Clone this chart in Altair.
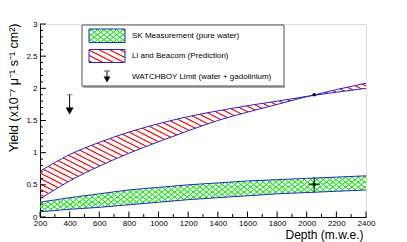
import math
import altair as alt
import pandas as pd

# ---------------- data ----------------
depth = [200, 400, 600, 800, 1000, 1200, 1400, 1600, 1800, 2000, 2200, 2400]
sk_upper = [0.23, 0.30, 0.36, 0.42, 0.46, 0.50, 0.53, 0.56, 0.58, 0.60, 0.62, 0.64]
sk_lower = [0.08, 0.12, 0.15, 0.19, 0.23, 0.27, 0.30, 0.33, 0.36, 0.38, 0.40, 0.42]
lb_upper = [0.71, 0.97, 1.16, 1.32, 1.45, 1.56, 1.65, 1.73, 1.80, 1.875, 1.94, 2.00]
lb_lower = [0.28, 0.56, 0.79, 0.99, 1.17, 1.34, 1.50, 1.63, 1.75, 1.87, 1.98, 2.08]

sk_point_depth = [2050]
sk_point_val = [0.51]
sk_point_lo = [0.39]
sk_point_hi = [0.62]
sk_point_dlo = [2010]
sk_point_dhi = [2090]

norm_depth = [2050]
norm_val = [1.90]

wb_depth = [400]
wb_limit = [1.90]
wb_arrow = [1.648]

x_major = [200, 400, 600, 800, 1000, 1200, 1400, 1600, 1800, 2000, 2200, 2400]
x_minor = [300, 500, 700, 900, 1100, 1300, 1500, 1700, 1900, 2100, 2300]
y_major = [0, 0.5, 1, 1.5, 2, 2.5, 3]
y_minor = [round(0.1 * i, 1) for i in range(31) if i % 5 != 0]

legend_labels = ["SK Measurement (pure water)", "Li and Beacom (Prediction)",
                 "WATCHBOY Limit (water + gadolinium)"]

# ---------------- layout ----------------
W, H = 326, 193
XD = [200, 2400]
YD = [0, 3]
FONT = "Liberation Sans"
BLUE = "#2424c8"
RED_RGB = "255,20,20"
GREEN_RGB = "20,235,20"


def ypix(v):
    return v * H / (YD[1] - YD[0])


def hatch(wp, hp, theta_deg, spacing, rgb, core=0.3, fade=0.6):
    th = math.radians(theta_deg)
    s, c = math.sin(th), math.cos(th)

    def f(u, v):
        return -s * wp * u + c * hp * v

    corners = [(0, 0), (1, 0), (0, 1), (1, 1)]
    vals = [f(u, v) for u, v in corners]
    i0 = min(range(4), key=lambda i: vals[i])
    fmin, fmax = min(vals), max(vals)
    R = fmax - fmin
    k = R / (s * s * wp * wp + c * c * hp * hp)
    u0, v0 = corners[i0]
    x2 = u0 + k * (-s * wp)
    y2 = v0 + k * (c * hp)
    col = f"rgba({rgb},1)"
    clr = f"rgba({rgb},0)"
    stops = [alt.GradientStop(offset=0, color=clr)]
    n = int(R / spacing) + 1
    for i in range(n):
        cc = spacing * (i + 0.5)
        pts = [(cc - core - fade, clr), (cc - core, col), (cc + core, col), (cc + core + fade, clr)]
        for o, colr in pts:
            o = min(max(o / R, 0.0), 1.0)
            stops.append(alt.GradientStop(offset=o, color=colr))
    stops.append(alt.GradientStop(offset=1, color=clr))
    return alt.LinearGradient(gradient="linear", x1=u0, y1=v0, x2=x2, y2=y2, stops=stops)


band = pd.DataFrame({"depth": depth, "sk_u": sk_upper, "sk_l": sk_lower,
                     "lb_u": lb_upper, "lb_l": lb_lower})

lb_h = ypix(max(lb_upper + lb_lower) - min(lb_upper + lb_lower))
sk_h = ypix(max(sk_upper + sk_lower) - min(sk_upper + sk_lower))

RED_THETA, RED_SP = 27, 4.8
GR_THETA, GR_SP = 38, 3.9
GR_CORE, GR_FADE = 0.2, 0.55

xs = alt.Scale(domain=XD, nice=False, zero=False)
ys = alt.Scale(domain=YD, nice=False, zero=False)

x_axis = alt.Axis(values=x_major, format="d", ticks=False, tickSize=0, labelPadding=2,
                  labelFontSize=8, labelFont=FONT, labelColor="black", labelFlush=False,
                  labelOverlap=False, labelBound=False, domainColor="black", grid=False,
                  title="Depth (m.w.e.)", titleFont=FONT, titleFontSize=12,
                  titleFontWeight="normal", titleColor="black", titleAnchor="end",
                  titleAlign="right", titleX=W - 3, titleY=21, titleBaseline="alphabetic")
y_axis = alt.Axis(values=y_major, format="~g", ticks=False, tickSize=0, labelPadding=3,
                  labelFontSize=8, labelFont=FONT, labelColor="black", labelFlush=False,
                  labelOverlap=False, labelBound=False, domainColor="black", grid=False,
                  title="Yield (x10⁻⁷ μ⁻¹ s⁻¹ cm²)", titleFont=FONT, titleFontSize=12.5,
                  titleFontWeight="normal", titleColor="black", titleAngle=270,
                  titleAlign="right", titleBaseline="alphabetic", titleX=-22.5, titleY=-1)

base = alt.Chart(band)

sk_a = base.mark_area(fill=hatch(W, sk_h, GR_THETA, GR_SP, GREEN_RGB, GR_CORE, GR_FADE),
                      opacity=1, interpolate="monotone").encode(
    x=alt.X("depth:Q", scale=xs, axis=x_axis),
    y=alt.Y("sk_u:Q", scale=ys, axis=y_axis), y2="sk_l:Q")
sk_b = base.mark_area(fill=hatch(W, sk_h, -GR_THETA, GR_SP, GREEN_RGB, GR_CORE, GR_FADE),
                      opacity=1, interpolate="monotone").encode(
    x=alt.X("depth:Q", scale=xs, axis=x_axis), y=alt.Y("sk_u:Q", scale=ys, axis=y_axis),
    y2="sk_l:Q")
lb_a = base.mark_area(fill=hatch(W, lb_h, RED_THETA, RED_SP, RED_RGB), opacity=1,
                      interpolate="monotone").encode(
    x=alt.X("depth:Q", scale=xs, axis=x_axis), y=alt.Y("lb_u:Q", scale=ys, axis=y_axis),
    y2="lb_l:Q")

curves = base.transform_fold(["sk_u", "sk_l", "lb_u", "lb_l"], as_=["curve", "val"]).mark_line(
    color=BLUE, strokeWidth=1, interpolate="monotone").encode(
    x=alt.X("depth:Q", scale=xs, axis=x_axis), y=alt.Y("val:Q", scale=ys, axis=y_axis),
    detail="curve:N")

skp = pd.DataFrame({"d": sk_point_depth, "v": sk_point_val, "lo": sk_point_lo,
                    "hi": sk_point_hi, "dlo": sk_point_dlo, "dhi": sk_point_dhi})
sk_vbar = alt.Chart(skp).mark_rule(color="black", strokeWidth=1).encode(
    x=alt.X("d:Q", scale=xs, axis=x_axis), y=alt.Y("lo:Q", scale=ys, axis=y_axis), y2="hi:Q")
sk_hbar = alt.Chart(skp).mark_rule(color="black", strokeWidth=1).encode(
    x=alt.X("dlo:Q", scale=xs, axis=x_axis), x2="dhi:Q", y=alt.Y("v:Q", scale=ys, axis=y_axis))
sk_dot = alt.Chart(skp).mark_point(shape="circle", filled=True, color="black", size=12,
                                   opacity=1).encode(
    x=alt.X("d:Q", scale=xs, axis=x_axis), y=alt.Y("v:Q", scale=ys, axis=y_axis))

normp = pd.DataFrame({"d": norm_depth, "v": norm_val})
norm_dot = alt.Chart(normp).mark_point(shape="circle", filled=True, color="black", size=12,
                                       opacity=1).encode(
    x=alt.X("d:Q", scale=xs, axis=x_axis), y=alt.Y("v:Q", scale=ys, axis=y_axis))

wb = pd.DataFrame({"d": wb_depth, "v": wb_limit, "a": wb_arrow})
wb_rule = alt.Chart(wb).mark_rule(color="black", strokeWidth=1).encode(
    x=alt.X("d:Q", scale=xs, axis=x_axis), y=alt.Y("v:Q", scale=ys, axis=y_axis), y2="a:Q")
wb_cap = alt.Chart(wb).mark_tick(orient="horizontal", color="#555555", size=6,
                                 thickness=1).encode(
    x=alt.X("d:Q", scale=xs, axis=x_axis), y=alt.Y("v:Q", scale=ys, axis=y_axis))
wb_head = alt.Chart(wb).mark_point(shape="triangle-down", filled=True, color="black",
                                   size=64, opacity=1).encode(
    x=alt.X("d:Q", scale=xs, axis=x_axis), y=alt.Y("a:Q", scale=ys, axis=y_axis))


# ---------------- ticks (inside, ROOT style) ----------------
def xticks(vals, length):
    return alt.Chart(pd.DataFrame({"t": vals})).mark_rule(color="black", strokeWidth=1).encode(
        x=alt.X("t:Q", scale=xs, axis=x_axis), y=alt.value(H), y2=alt.value(H - length))


def yticks(vals, length):
    return alt.Chart(pd.DataFrame({"t": vals})).mark_rule(color="black", strokeWidth=1).encode(
        y=alt.Y("t:Q", scale=ys, axis=y_axis), x=alt.value(0), x2=alt.value(length))


ticks = [xticks(x_major, 5.5), xticks(x_minor, 3), yticks(y_major, 6), yticks(y_minor, 3)]

# ---------------- legend ----------------
one = pd.DataFrame({"k": [0]})
LX0, LX1, LY0, LY1 = 42, 244, 1, 62
leg_box = alt.Chart(one).mark_rect(fill="white", stroke="#555555", strokeWidth=1).encode(
    x=alt.value(LX0), x2=alt.value(LX1), y=alt.value(LY0), y2=alt.value(LY1))
leg_shadow = alt.Chart(one).mark_rule(color="#555555", strokeWidth=1).encode(
    x=alt.value(LX0 + 1), x2=alt.value(LX1 + 1), y=alt.value(LY1 + 1))

SW_X0, SW_X1 = 49, 85
sw1 = (5, 18.5)
sw2 = (25.5, 38.5)
sw_w = SW_X1 - SW_X0
g1 = alt.Chart(one).mark_rect(
    fill=hatch(sw_w, sw1[1] - sw1[0], GR_THETA, GR_SP, GREEN_RGB, GR_CORE, GR_FADE)).encode(
    x=alt.value(SW_X0), x2=alt.value(SW_X1), y=alt.value(sw1[0]), y2=alt.value(sw1[1]))
g2 = alt.Chart(one).mark_rect(
    fill=hatch(sw_w, sw1[1] - sw1[0], -GR_THETA, GR_SP, GREEN_RGB, GR_CORE, GR_FADE)).encode(
    x=alt.value(SW_X0), x2=alt.value(SW_X1), y=alt.value(sw1[0]), y2=alt.value(sw1[1]))
g3 = alt.Chart(one).mark_rect(fill="transparent", stroke=BLUE, strokeWidth=1).encode(
    x=alt.value(SW_X0), x2=alt.value(SW_X1), y=alt.value(sw1[0]), y2=alt.value(sw1[1]))
r1 = alt.Chart(one).mark_rect(fill=hatch(sw_w, sw2[1] - sw2[0], RED_THETA, RED_SP, RED_RGB),
                              stroke=BLUE, strokeWidth=1).encode(
    x=alt.value(SW_X0), x2=alt.value(SW_X1), y=alt.value(sw2[0]), y2=alt.value(sw2[1]))
la_rule = alt.Chart(one).mark_rule(color="black", strokeWidth=1).encode(
    x=alt.value(67), y=alt.value(47), y2=alt.value(55))
la_cap = alt.Chart(one).mark_rule(color="#555555", strokeWidth=1).encode(
    x=alt.value(64), x2=alt.value(70), y=alt.value(47))
la_head = alt.Chart(one).mark_point(shape="triangle-down", filled=True, color="black",
                                    size=45, opacity=1).encode(
    x=alt.value(67), y=alt.value(55.5))

leg_text = alt.Chart(pd.DataFrame({"lab": legend_labels, "yy": [12, 32, 53]})).mark_text(
    align="left", baseline="middle", font=FONT, fontSize=8, color="black").encode(
    x=alt.value(92), y=alt.Y("yy:Q", scale=None), text="lab:N")

chart = alt.layer(
    sk_a, sk_b, lb_a, curves, sk_vbar, sk_hbar, sk_dot, norm_dot, wb_rule, wb_cap, wb_head,
    *ticks, leg_box, leg_shadow, g1, g2, g3, r1, la_rule, la_cap, la_head, leg_text
).properties(
    width=W, height=H, autosize=alt.AutoSizeParams(type="none"),
    padding={"left": 32, "top": 16, "right": 25, "bottom": 25}
).configure_view(stroke="black", strokeWidth=1).configure_axis(
    labelOverlap=False, labelFlush=False, labelBound=False
).configure(background="white")

chart.save("out.html", embed_options={"renderer": "svg", "actions": False})
